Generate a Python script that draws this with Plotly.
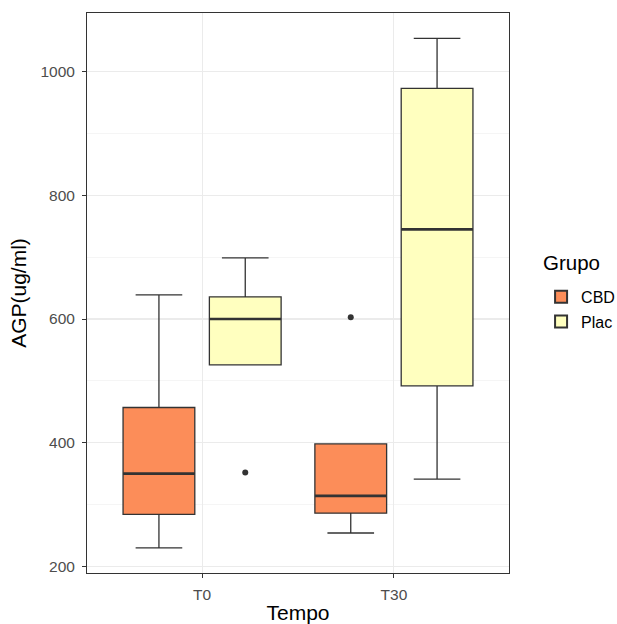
import plotly.graph_objects as go

categories = ["T0", "T30"]
groups = ["CBD", "Plac"]
colors = {"CBD": "#FC8D59", "Plac": "#FFFFBF"}

lower = {"CBD": [230, 254], "Plac": [526, 341]}
q1 = {"CBD": [284, 286], "Plac": [526, 492]}
median = {"CBD": [350, 314], "Plac": [600, 745]}
q3 = {"CBD": [457, 398], "Plac": [636, 973]}
upper = {"CBD": [639, 398], "Plac": [699, 1054]}
outliers = {"CBD": [[], [603]], "Plac": [[352], []]}

dodge = {"CBD": -0.225, "Plac": 0.225}
box_w = 0.374
line_c = "#333333"
font_family = "Liberation Sans, Arial, sans-serif"

fig = go.Figure()
for g in groups:
    xs = [i + dodge[g] for i in range(len(categories))]
    fig.add_trace(go.Box(
        x=xs, q1=q1[g], median=median[g], q3=q3[g],
        lowerfence=lower[g], upperfence=upper[g],
        width=box_w, whiskerwidth=0.65,
        fillcolor=colors[g], line=dict(color=line_c, width=1.3),
        name=g, legendgroup=g, boxpoints=False, hoverinfo="skip",
    ))
for g in groups:
    for i, xv in enumerate([i + dodge[g] for i in range(len(categories))]):
        fig.add_trace(go.Scatter(
            x=[xv - box_w / 2, xv + box_w / 2], y=[median[g][i], median[g][i]],
            mode="lines", line=dict(color=line_c, width=2.6),
            showlegend=False, hoverinfo="skip",
        ))
        if outliers[g][i]:
            fig.add_trace(go.Scatter(
                x=[xv] * len(outliers[g][i]), y=outliers[g][i], mode="markers",
                marker=dict(color=line_c, size=6), showlegend=False, hoverinfo="skip",
            ))

fig.add_annotation(
    text="Grupo", xref="paper", yref="paper", x=1.075, y=0.5536,
    xanchor="left", yanchor="middle", showarrow=False,
    font=dict(size=20.5, color="black", family=font_family),
)

fig.update_layout(
    width=617, height=624,
    margin=dict(l=87, r=108, t=13, b=51, autoexpand=False),
    paper_bgcolor="white", plot_bgcolor="white",
    font=dict(family=font_family, color="#000000"),
    showlegend=True,
    legend=dict(
        font=dict(size=16, color="black"),
        x=1.076, xanchor="left", y=0.5234, yanchor="top",
        tracegroupgap=1, itemsizing="constant",
    ),
    xaxis=dict(
        range=[-0.6, 1.6], tickvals=list(range(len(categories))), ticktext=categories,
        showgrid=True, gridcolor="#EBEBEB", gridwidth=1, zeroline=False,
        ticks="outside", ticklen=4, tickcolor=line_c, ticklabelstandoff=3,
        tickfont=dict(size=15.5, color="#4D4D4D"),
        showline=True, linecolor=line_c, mirror=True, linewidth=1,
        automargin=False,
        title=dict(text="Tempo", font=dict(size=21, color="black"), standoff=4),
    ),
    yaxis=dict(
        range=[189.3, 1095], tickvals=[200, 400, 600, 800, 1000],
        showgrid=True, gridcolor="#EBEBEB", gridwidth=1.2, zeroline=False,
        minor=dict(tickvals=[300, 500, 700, 900], showgrid=True, gridcolor="#F2F2F2", gridwidth=0.8),
        ticks="outside", ticklen=4, tickcolor=line_c, ticklabelstandoff=4,
        tickfont=dict(size=15.5, color="#4D4D4D"),
        showline=True, linecolor=line_c, mirror=True, linewidth=1,
        automargin=False,
        title=dict(text="AGP(ug/ml)", font=dict(size=21, color="black"), standoff=8),
    ),
    hovermode=False,
)

fig.write_html(
    "out.html",
    config={"displayModeBar": False, "staticPlot": True},
    post_script="document.body.style.margin='0';document.body.style.overflow='hidden';",
)
